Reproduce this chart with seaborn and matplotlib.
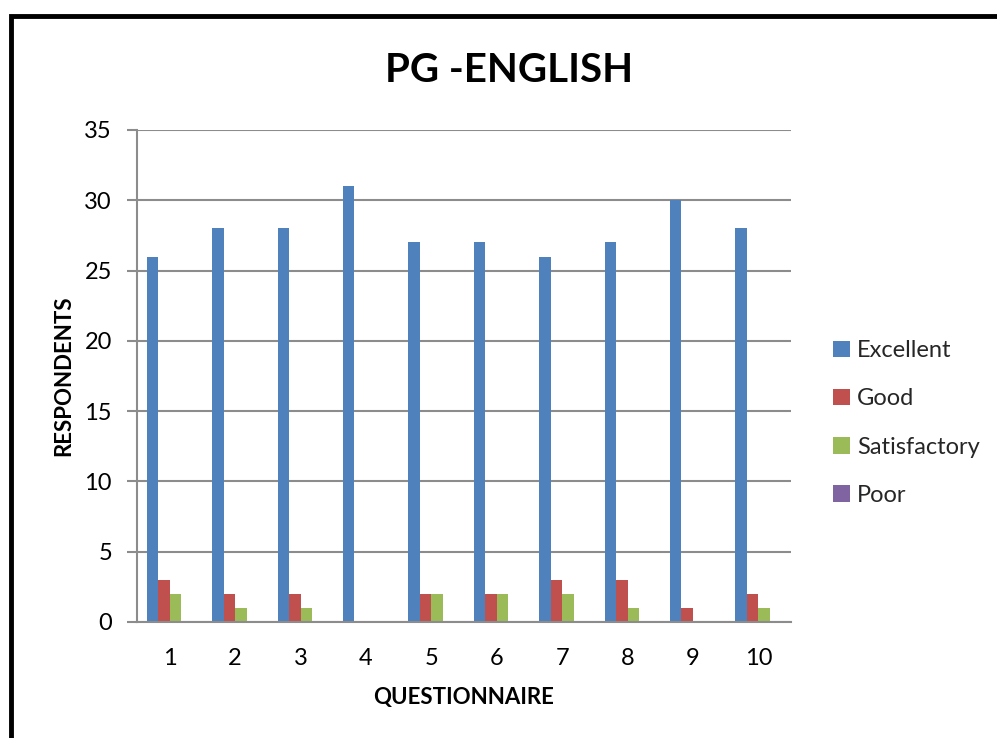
import matplotlib
matplotlib.use("Agg")
import matplotlib.pyplot as plt
import seaborn as sns
import pandas as pd
from matplotlib.patches import Rectangle, Patch

questions = ["1", "2", "3", "4", "5", "6", "7", "8", "9", "10"]
excellent = [26, 28, 28, 31, 27, 27, 26, 27, 30, 28]
good = [3, 2, 2, 0, 2, 2, 3, 3, 1, 2]
satisfactory = [2, 1, 1, 0, 2, 2, 2, 1, 0, 1]
poor = [0, 0, 0, 0, 0, 0, 0, 0, 0, 0]
series_names = ["Excellent", "Good", "Satisfactory", "Poor"]
colors = ["#4F81BD", "#C0504D", "#9BBB59", "#8064A2"]

rows = []
for name, vals in zip(series_names, [excellent, good, satisfactory, poor]):
    for q, v in zip(questions, vals):
        rows.append({"Question": q, "Rating": name, "Count": v})
df = pd.DataFrame(rows)

sns.set_theme(style="white")
plt.rcParams['font.family'] = ['Lato', 'DejaVu Sans']

W, H = 997, 738
fig = plt.figure(figsize=(W / 100, H / 100), dpi=100)
ax = fig.add_axes([137 / W, 1 - 622 / H, (791 - 137) / W, (622 - 130) / H])

sns.barplot(data=df, x="Question", y="Count", hue="Rating", order=questions,
            hue_order=series_names, palette=colors, width=0.70, gap=0,
            saturation=1, edgecolor="none", linewidth=0, ax=ax, legend=False)

ax.set_ylim(0, 35)
ax.set_xlim(-0.5, 9.5)
ax.set_yticks(range(0, 36, 5))
ax.yaxis.grid(True, color="#8c8c8c", linewidth=1.5)
ax.set_axisbelow(True)
for s in ["top", "right"]:
    ax.spines[s].set_visible(False)
ax.spines["left"].set_color("#8c8c8c")
ax.spines["left"].set_linewidth(1.5)
ax.spines["bottom"].set_color("#8c8c8c")
ax.spines["bottom"].set_linewidth(1.5)
ax.tick_params(axis="y", which="both", left=True, length=7, width=1.5,
               color="#8c8c8c", labelsize=17, pad=11, labelcolor="black")
ax.tick_params(axis="x", bottom=False, labelsize=17, pad=13, labelcolor="black")

ax.set_xlabel("QUESTIONNAIRE", fontsize=16, fontweight="bold", labelpad=13, color="black")
ax.set_ylabel("RESPONDENTS", fontsize=16, fontweight="bold", labelpad=7, color="black")

fig.text(509 / W, 1 - 70 / H, "PG -ENGLISH", fontsize=29, fontweight="bold",
         ha="center", va="center", color="black")

handles = [Patch(facecolor=c, edgecolor="none") for c in colors]
fig.legend(handles, series_names, loc="center left",
           bbox_to_anchor=(812 / W, 1 - 423 / H), frameon=False,
           fontsize=17, handlelength=0.7, handleheight=0.7,
           handletextpad=0.3, labelspacing=1.15)

fig.patches.append(Rectangle((11 / W, -0.1), 1.2, 1 - 16 / H + 0.1,
                             transform=fig.transFigure, fill=False,
                             edgecolor="black", linewidth=3.5, zorder=10))

fig.savefig("out.png", dpi=100)
